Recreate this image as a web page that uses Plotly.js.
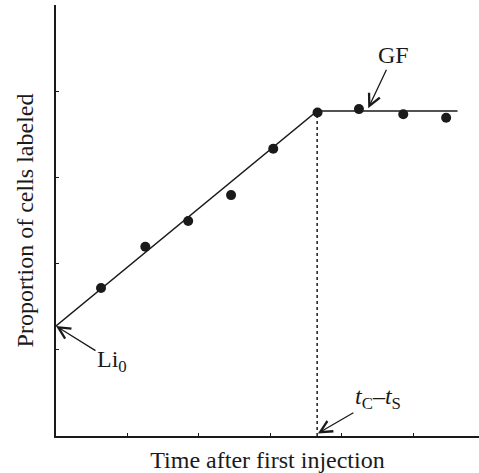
<!DOCTYPE html>
<html>
<head>
<meta charset="utf-8">
<script src="https://cdn.plot.ly/plotly-3.0.1.min.js"></script>
<style>html,body{margin:0;padding:0;background:#fff;}#chart{width:479px;height:473px;}</style>
</head>
<body>
<div id="chart"></div>
<script>
const timeObs = [0.63, 1.25, 1.85, 2.45, 3.04, 3.66, 4.24, 4.86, 5.46];
const labeledObs = [1.72, 2.20, 2.50, 2.80, 3.34, 3.76, 3.80, 3.74, 3.70];
// Fitted piecewise line: starts at Li0, rises until tc - ts, then plateau at GF
const fitTime = [0, 3.655, 5.62];
const fitLabeled = [1.279, 3.779, 3.779];
const li0 = 1.279;
const tcMinusTs = 3.655;
const gfLevel = 3.779;
const xTicks = [0, 1, 2, 3, 4, 5];
const yTicks = [0, 1, 2, 3, 4];

const ink = '#1a1a1a';
const serif = 'Liberation Serif, Times New Roman, serif';

const traces = [
  {x: fitTime, y: fitLabeled, mode: 'lines', line: {color: ink, width: 1.5}, hoverinfo: 'skip'},
  {x: [tcMinusTs, tcMinusTs], y: [0, labeledObs[5]], mode: 'lines', line: {color: ink, width: 1.5, dash: 'dot'}, hoverinfo: 'skip'},
  {x: timeObs, y: labeledObs, mode: 'markers', marker: {color: ink, size: 10}}
];

const annStyle = {showarrow: true, arrowhead: 5, arrowsize: 1.8, arrowwidth: 1.3, arrowcolor: ink,
  xref: 'x', yref: 'y', font: {family: serif, size: 24, color: ink}};

const layout = {
  width: 479, height: 473,
  margin: {l: 56, r: 0, t: 5, b: 37},
  paper_bgcolor: '#fff', plot_bgcolor: '#fff',
  showlegend: false,
  xaxis: {
    range: [0, 5.92], tickvals: xTicks, showticklabels: false,
    ticks: 'inside', ticklen: 3, tickcolor: ink, tickwidth: 1,
    showline: true, linecolor: ink, linewidth: 2, showgrid: false, zeroline: false,
    title: {text: 'Time after first injection', font: {family: serif, size: 24, color: ink}, standoff: 14}
  },
  yaxis: {
    range: [0, 5.01], tickvals: yTicks, showticklabels: false,
    ticks: 'inside', ticklen: 3, tickcolor: ink, tickwidth: 1,
    showline: true, linecolor: ink, linewidth: 2, showgrid: false, zeroline: false,
    title: {text: 'Proportion of cells labeled', font: {family: serif, size: 24, color: ink}, standoff: 14}
  },
  annotations: [
    Object.assign({}, annStyle, {x: 4.37, y: gfLevel + 0.03, ax: 25, ay: -53, text: 'GF'}),
    Object.assign({}, annStyle, {x: 0, y: li0, ax: 56, ay: 35, text: 'Li<sub>0</sub>'}),
    Object.assign({}, annStyle, {x: tcMinusTs + 0.01, y: 0.03, ax: 60, ay: -35, text: '<i>t</i><sub>C</sub>–<i>t</i><sub>S</sub>'})
  ]
};

Plotly.newPlot('chart', traces, layout, {displayModeBar: false, staticPlot: true});
</script>
</body>
</html>
